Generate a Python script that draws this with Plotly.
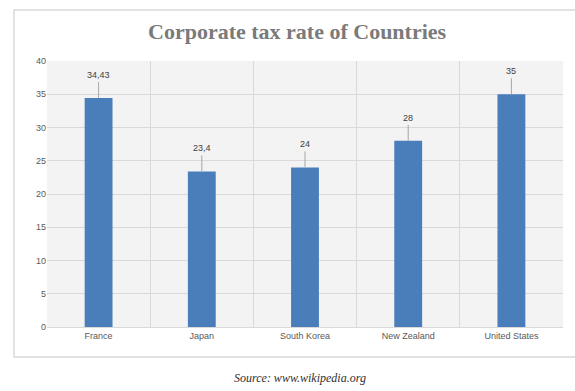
import plotly.graph_objects as go

countries = ["France", "Japan", "South Korea", "New Zealand", "United States"]
tax_rates = [34.43, 23.4, 24, 28, 35]
value_labels = ["34,43", "23,4", "24", "28", "35"]
y_ticks = [0, 5, 10, 15, 20, 25, 30, 35, 40]

leader = [2.4] * len(tax_rates)

fig = go.Figure()
fig.add_trace(go.Bar(
    x=countries, y=tax_rates, width=0.27,
    marker=dict(color="#4a7ebb", line=dict(width=0)),
    error_y=dict(type="data", symmetric=False, array=leader, arrayminus=[0]*len(leader),
                 color="#a6a6a6", thickness=1, width=0),
    hoverinfo="skip",
))

for c, v, lab in zip(countries, tax_rates, value_labels):
    fig.add_annotation(x=c, y=v, text=lab, showarrow=False, yshift=23,
                       font=dict(family="Liberation Sans", size=9, color="#404040"))

fig.add_shape(type="rect", xref="paper", yref="paper", x0=-0.064, x1=1.03, y0=-0.113, y1=1.192,
              line=dict(color="#d9d9d9", width=1.5), fillcolor="rgba(0,0,0,0)", layer="below")

fig.add_annotation(xref="paper", yref="paper", x=0.485, y=1.165, text="<b>Corporate tax rate of Countries</b>",
                   showarrow=False, font=dict(family="Liberation Serif", size=22, color="#7a7a7a"))
fig.add_annotation(xref="paper", yref="paper", x=0.49, y=-0.2, yshift=-7, text="<i>Source: www.wikipedia.org</i>",
                   showarrow=False, font=dict(family="Liberation Serif", size=12, color="#303030"))

fig.update_layout(
    width=575, height=391,
    margin=dict(l=47, r=12, t=61, b=64),
    paper_bgcolor="white", plot_bgcolor="#f3f3f3",
    showlegend=False,
    xaxis=dict(type="category", tickson="boundaries", showgrid=True, gridcolor="#d9d9d9",
               ticks="", tickfont=dict(family="Liberation Sans", size=9, color="#595959"),
               showline=True, linecolor="#d9d9d9"),
    yaxis=dict(range=[0, 40], tickvals=y_ticks, showgrid=True, gridcolor="#d9d9d9",
               zeroline=False, ticks="", ticklen=0,
               tickfont=dict(family="Liberation Sans", size=9, color="#595959")),
)

fig.write_html("out.html")
